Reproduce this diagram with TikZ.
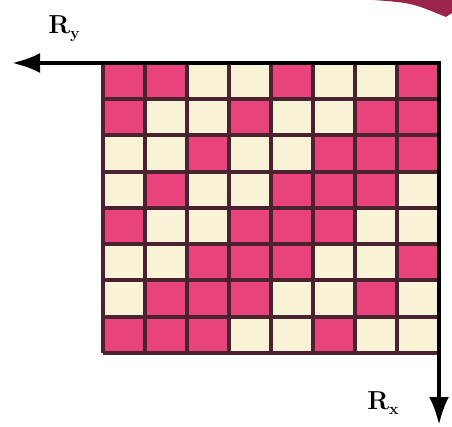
\documentclass[tikz,border=0pt]{standalone}
\usepackage{fontspec}
\usetikzlibrary{arrows.meta}
\definecolor{cellpink}{HTML}{E8437A}
\definecolor{cellcream}{HTML}{F8F2D6}
\definecolor{gridline}{HTML}{4A2230}
\definecolor{swooshred}{HTML}{9A2548}
\colorlet{c0}{cellcream}
\colorlet{c1}{cellpink}
\newcommand{\biglabel}[2]{{\fontsize{26}{28}\selectfont\bfseries #1\raisebox{-0.45ex}{\fontsize{16}{16}\selectfont #2}}}
\tikzset{
  gridstroke/.style={gridline, line width=4pt},
  axisarrow/.style={line width=4pt, line join=miter, -{Latex[length=28pt,width=20pt]}},
  axislabel/.style={inner sep=0pt}
}
\begin{document}
\begin{tikzpicture}[x=1pt,y=-1pt]
\useasboundingbox (0,0) rectangle (452,427);
% swoosh at top right
\fill[swooshred] (374,0) .. controls (412,3) .. (446,17) -- (452,13) -- (452,0) -- cycle;
% cells
\foreach \r/\pat in {0/{1,1,0,0,1,0,0,1},1/{1,0,0,1,0,0,1,1},2/{0,0,1,0,0,1,1,1},3/{0,1,0,0,1,1,1,0},4/{1,0,0,1,1,1,0,0},5/{0,0,1,1,1,0,0,1},6/{0,1,1,1,0,0,1,0},7/{1,1,1,0,0,1,0,0}}{
  \foreach \v [count=\c from 0] in \pat {
    \fill[c\v] ({103+42*\c},{63+36.25*\r}) rectangle ++(42,36.25);
  }
}
% grid lines
\foreach \i in {0,...,8}{
  \draw[gridstroke] ({103+42*\i},63) -- ({103+42*\i},353);
  \draw[gridstroke] (103,{63+36.25*\i}) -- (439,{63+36.25*\i});
}
% axes
\coordinate (corner) at (439,63);
\coordinate (ytip) at (12,63);
\coordinate (xtip) at (439,425);
\draw[axisarrow] (corner) -- (ytip);
\draw[axisarrow] (corner) -- (xtip);
\draw[line width=4pt] (ytip) ++(30,0) -- (corner) -- ++(0,30);
% labels
\node[axislabel] (ry) at (64,29) {\biglabel{R}{y}};
\node[axislabel] (rx) at (383,403) {\biglabel{R}{x}};
\end{tikzpicture}
\end{document}
